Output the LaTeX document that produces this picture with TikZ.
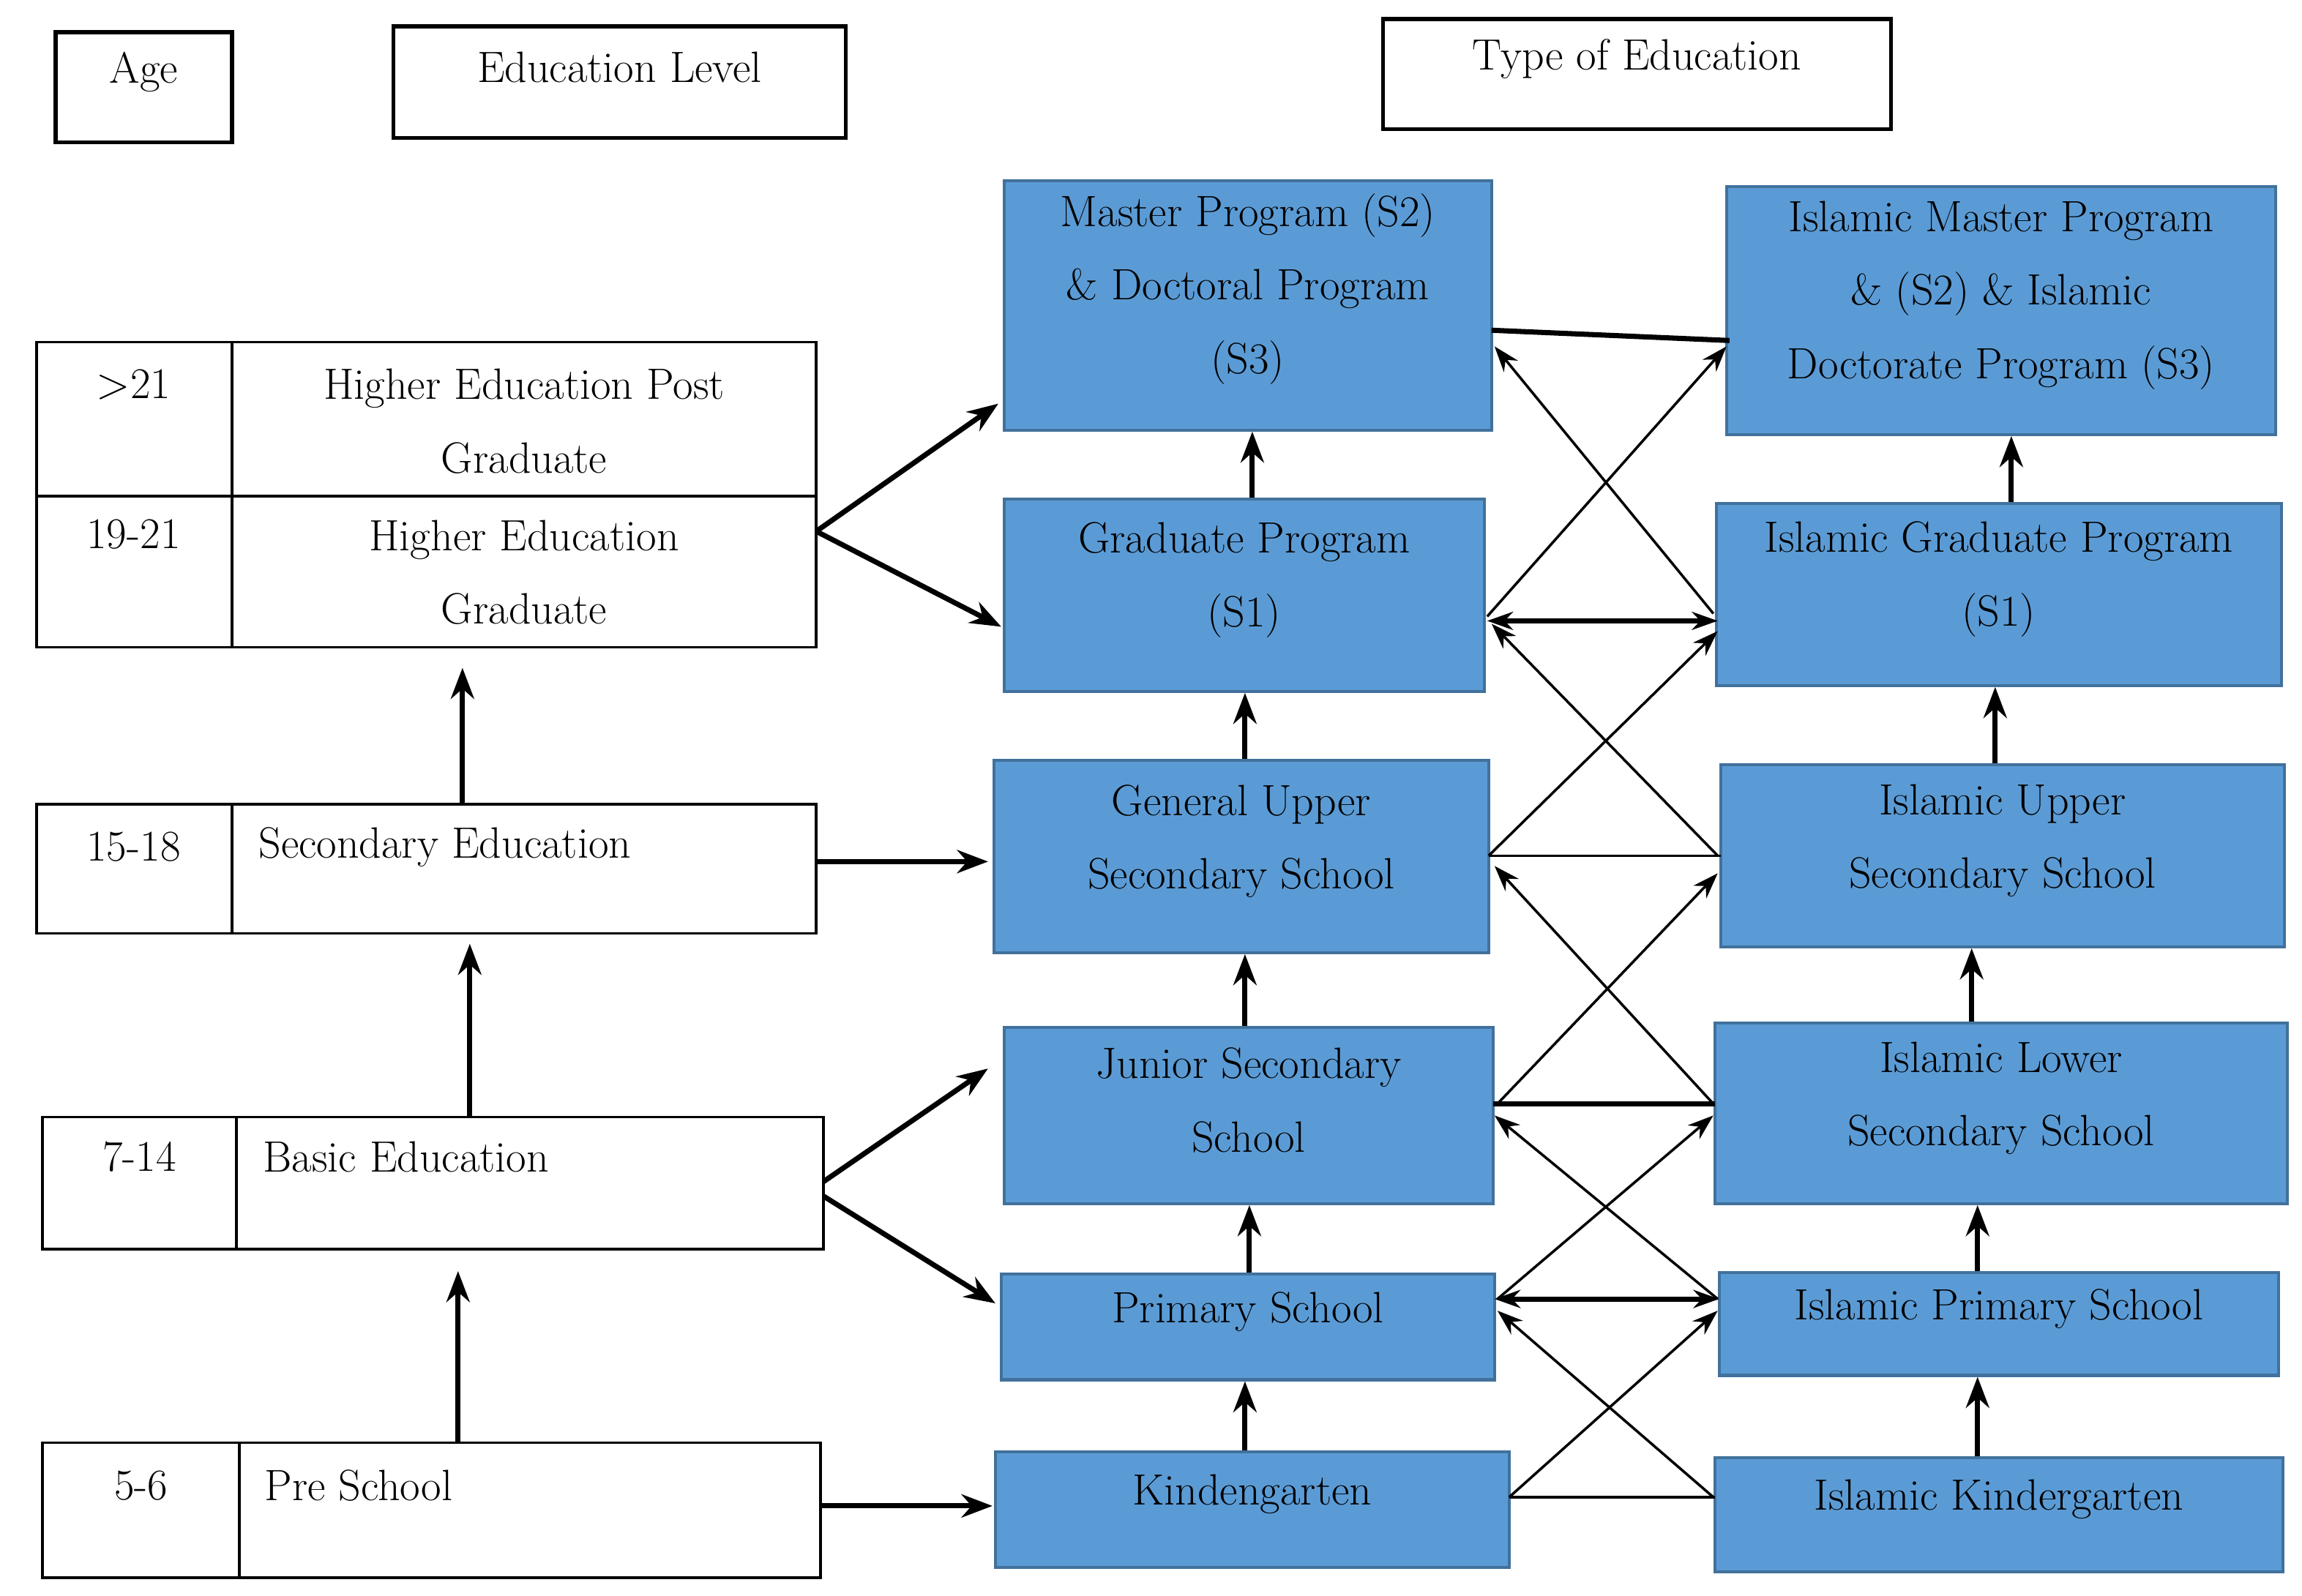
\documentclass[tikz,border=0pt]{standalone}
\usetikzlibrary{fit,arrows.meta}
\definecolor{bfill}{HTML}{5B9BD5}
\definecolor{bline}{HTML}{41719C}
\begin{document}
\begin{tikzpicture}[x=0.02cm,y=-0.02cm,
  every node/.style={font=\fontsize{17}{28.5}\selectfont},
  cell/.style={draw=black,line width=1pt,inner sep=0pt,fill=white},
  hdr/.style={draw=black,line width=1.6pt,inner sep=0pt},
  blue/.style={draw=bline,line width=1.2pt,fill=bfill,inner sep=0pt,align=center},
  tk/.style={line width=2pt,-{Stealth[length=12pt,width=9pt]}},
  tn/.style={line width=1pt,-{Stealth[length=10pt,width=7pt]}},
  tnb/.style={line width=1pt,{Stealth[length=10pt,width=7pt]}-{Stealth[length=10pt,width=7pt]}},
  ln/.style={line width=1pt},
  lk/.style={line width=2pt}]
\useasboundingbox (0,0) rectangle (1568,1087);
\fill[white] (0,0) rectangle (1568,1087);
% headers
\node[hdr,fit={(38,22)(158,97)}] (age) {Age};
\node[hdr,fit={(268,18)(576,94)}] (edl) {Education Level};
\node[hdr,fit={(942,13)(1288,88)}] (toe) {Type of Education};
% left table
\node[cell,fit={(25,233)(158,338)}] (a1) {};
\node[cell,fit={(158,233)(556,338)}] (l1) {};
\node[cell,fit={(25,338)(158,441)}] (a2) {};
\node[cell,fit={(158,338)(556,441)}] (l2) {};
\node[cell,fit={(25,548)(158,636)}] (a3) {};
\node[cell,fit={(158,548)(556,636)}] (l3) {};
\node[cell,fit={(29,761)(161,851)}] (a4) {};
\node[cell,fit={(161,761)(561,851)}] (l4) {};
\node[cell,fit={(29,983)(163,1075)}] (a5) {};
\node[cell,fit={(163,983)(559,1075)}] (l5) {};
\node (ta1) at (91,262) {$>$21};
\node[align=center] (tl1) at (357,287) {Higher Education Post\\Graduate};
\node (ta2) at (91,364) {19-21};
\node[align=center] (tl2) at (357,390) {Higher Education\\Graduate};
\node (ta3) at (91,577) {15-18};
\node[anchor=west] (tl3) at (170,577) {Secondary Education};
\node (ta4) at (95,788) {7-14};
\node[anchor=west] (tl4) at (173,788) {Basic Education};
\node (ta5) at (96,1012) {5-6};
\node[anchor=west] (tl5) at (174,1012) {Pre School};
% middle column
\node[blue,fit={(684,123)(1016,293)}] (ms) {Master Program (S2)\\\& Doctoral Program\\(S3)};
\node[blue,fit={(684,340)(1011,471)}] (gr) {Graduate Program\\(S1)};
\node[blue,fit={(677,518)(1014,649)}] (gu) {General Upper\\Secondary School};
\node[blue,fit={(684,700)(1017,820)}] (js) {Junior Secondary\\School};
\node[blue,fit={(682,868)(1018,940)}] (ps) {Primary School};
\node[blue,fit={(678,989)(1028,1068)}] (kg) {Kindengarten};
% right column
\node[blue,fit={(1176,127)(1550,296)}] (ims) {Islamic Master Program\\\& (S2) \& Islamic\\Doctorate Program (S3)};
\node[blue,fit={(1169,343)(1554,467)}] (igr) {Islamic Graduate Program\\(S1)};
\node[blue,fit={(1172,521)(1556,645)}] (ius) {Islamic Upper\\Secondary School};
\node[blue,fit={(1168,697)(1558,820)}] (ils) {Islamic Lower\\Secondary School};
\node[blue,fit={(1171,867)(1552,937)}] (ips) {Islamic Primary School};
\node[blue,fit={(1168,993)(1555,1071)}] (ikg) {Islamic Kindergarten};
% left vertical arrows
\draw[tk] (315,548) -- (315,455);
\draw[tk] (320,761) -- (320,643);
\draw[tk] (312,983) -- (312,866);
% left to middle
\coordinate (f1) at (556,362);
\coordinate (f4) at (561,805);
\coordinate (f4b) at (561,815);
\draw[tk] (f1) -- (680,275);
\draw[tk] (f1) -- (682,427);
\draw[tk] (l3.east|-0,587) -- (673,587);
\draw[tk] (f4) -- (673,728);
\draw[tk] (f4b) -- (678,888);
\draw[tk] (l5.east|-0,1026) -- (676,1026);
% middle vertical
\draw[tk] (gr.north-|853,0) -- (ms.south-|853,0);
\draw[tk] (gu.north-|848,0) -- (gr.south-|848,0);
\draw[tk] (js.north-|848,0) -- (gu.south-|848,0);
\draw[tk] (ps.north-|851,0) -- (js.south-|851,0);
\draw[tk] (kg.north-|848,0) -- (ps.south-|848,0);
% right vertical
\draw[tk] (igr.north-|1370,0) -- (ims.south-|1370,0);
\draw[tk] (ius.north-|1359,0) -- (igr.south-|1359,0);
\draw[tk] (ils.north-|1343,0) -- (ius.south-|1343,0);
\draw[tk] (ips.north-|1347,0) -- (ils.south-|1347,0);
\draw[tk] (ikg.north-|1347,0) -- (ips.south-|1347,0);
% crossings
\draw[lk] (1016,225) -- (1178,232);
\draw[tn] (1013,420) -- (1176,236);
\draw[tn] (1167,418) -- (1018,236);
\draw[lk,{Stealth[length=10pt,width=7pt]}-{Stealth[length=10pt,width=7pt]}] (1013,423) -- (1170,423);
\draw[tn] (1014,583) -- (1170,430);
\draw[tn] (1170,583) -- (1016,425);
\draw[ln] (1014,583) -- (1172,583);
\draw[tn] (1020,752) -- (1170,595);
\draw[tn] (1167,752) -- (1018,590);
\draw[lk] (1017,752) -- (1168,752);
\draw[tn] (1020,885) -- (1167,760);
\draw[tn] (1170,885) -- (1018,760);
\draw[lk,{Stealth[length=10pt,width=7pt]}-{Stealth[length=10pt,width=7pt]}] (1018,885) -- (1171,885);
\draw[tn] (1028,1020) -- (1170,893);
\draw[tn] (1167,1020) -- (1020,893);
\draw[ln] (1028,1020) -- (1168,1020);
\end{tikzpicture}
\end{document}
